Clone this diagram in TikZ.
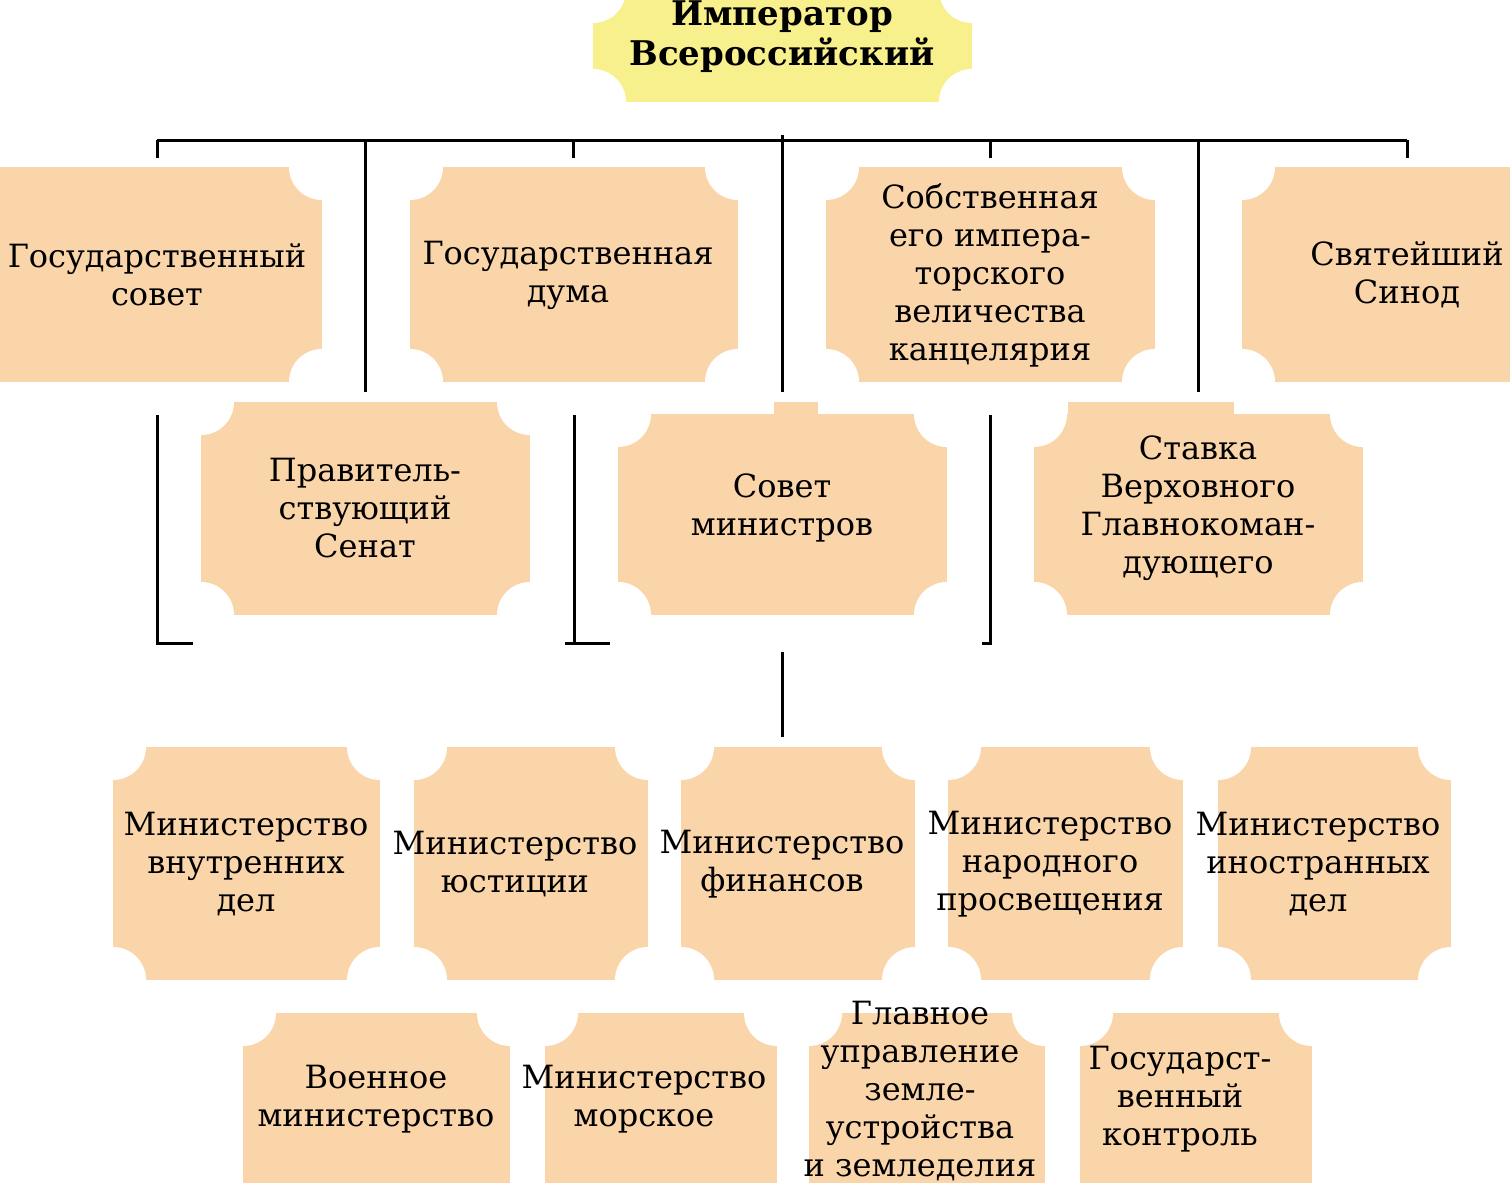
\documentclass[tikz,border=0pt]{standalone}
\usepackage{fontspec}
\setmainfont{DejaVu Serif}
\definecolor{boxc}{HTML}{FBD5AA}
\definecolor{topc}{HTML}{F8F08C}
\newcommand{\scbox}[5]{%
 \begin{scope}
 \clip (#1,#2) rectangle (#3,#4);
 \fill[#5] (#1,#2) rectangle (#3,#4);
 \fill[white] (#1,#2) circle (33) (#3,#2) circle (33) (#1,#4) circle (33) (#3,#4) circle (33);
 \end{scope}}
\tikzset{lbl/.style={align=center,font=\fontsize{16}{19}\selectfont,inner sep=0pt},
 ln/.style={line width=1.5pt,black}}
\begin{document}
\begin{tikzpicture}[x=0.5pt,y=-0.5pt]
\useasboundingbox (0,0) rectangle (1510,1183);
\scbox{593}{-10}{972}{102}{topc}
\node[lbl,font=\fontsize{17}{20}\selectfont\bfseries] (imp) at (782,37) {Император\\Всероссийский};
% row1
\scbox{-40}{167}{322}{382}{boxc}
\scbox{410}{167}{738}{382}{boxc}
\scbox{826}{167}{1155}{382}{boxc}
\scbox{1242}{167}{1550}{382}{boxc}
\node[lbl] (gs) at (157,275) {Государственный\\совет};
\node[lbl] (gd) at (568,275) {Государственная\\дума};
\node[lbl] (sk) at (990,275) {Собственная\\его импера-\\торского\\величества\\канцелярия};
\node[lbl] (ss) at (1407,275) {Святейший\\Синод};
% row2
\scbox{201}{402}{530}{615}{boxc}
\scbox{618}{414}{947}{615}{boxc}
\fill[boxc] (774,402) rectangle (818,415);
\scbox{1034}{414}{1363}{615}{boxc}
\fill[boxc] (1068,402) rectangle (1234,415);
\node[lbl] (ps) at (365,508) {Правитель-\\ствующий\\Сенат};
\node[lbl] (sm) at (782,508) {Совет\\министров};
\node[lbl] (sv) at (1198,508) {Ставка\\Верховного\\Главнокоман-\\дующего};
% row3
\scbox{113}{747}{380}{980}{boxc}
\scbox{414}{747}{648}{980}{boxc}
\scbox{681}{747}{915}{980}{boxc}
\scbox{948}{747}{1183}{980}{boxc}
\scbox{1218}{747}{1451}{980}{boxc}
\node[lbl] (m1) at (246,864) {Министерство\\внутренних\\дел};
\node[lbl] (m2) at (515,864) {Министерство\\юстиции};
\node[lbl] (m3) at (782,864) {Министерство\\финансов};
\node[lbl] (m4) at (1050,864) {Министерство\\народного\\просвещения};
\node[lbl] (m5) at (1318,864) {Министерство\\иностранных\\дел};
% row4
\scbox{243}{1013}{510}{1230}{boxc}
\scbox{545}{1013}{777}{1230}{boxc}
\scbox{809}{1013}{1045}{1230}{boxc}
\scbox{1080}{1013}{1312}{1230}{boxc}
\node[lbl] (r1) at (376,1099) {Военное\\министерство};
\node[lbl] (r2) at (644,1099) {Министерство\\морское};
\node[lbl] (r3) at (920,1091) {Главное\\управление\\земле-\\устройства\\и земледелия};
\node[lbl] (r4) at (1180,1099) {Государст-\\венный\\контроль};
% lines
\coordinate (hl) at (157,140); \coordinate (hr) at (1407,140);
\draw[ln] (hl) -- (hr);
\draw[ln] (157,140) -- (157,158);
\draw[ln] (573,140) -- (573,158);
\draw[ln] (990,140) -- (990,158);
\draw[ln] (1407,140) -- (1407,158);
\draw[ln] (365,140) -- (365,392);
\draw[ln] (782,135) -- (782,392);
\draw[ln] (1198,140) -- (1198,392);
\draw[ln] (157,415) -- (157,643) -- (193,643);
\draw[ln] (574,415) -- (574,643); \draw[ln] (565,643) -- (610,643);
\draw[ln] (990,415) -- (990,643) -- (982,643);
\draw[ln] (782,652) -- (782,737);
\end{tikzpicture}
\end{document}
